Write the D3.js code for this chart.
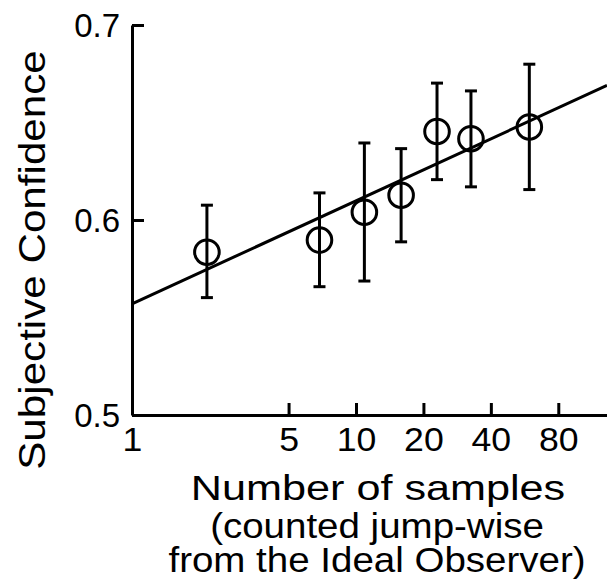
<!DOCTYPE html>
<html>
<head>
<meta charset="utf-8">
<script src="https://cdn.jsdelivr.net/npm/d3@7"></script>
<style>
  body { margin: 0; background: #fff; }
  svg { display: block; }
</style>
</head>
<body>
<svg id="chart" width="607" height="587"></svg>
<script>
// DATA
const samples = [2.16, 6.87, 10.9, 15.9, 23.0, 32.6, 59.4];
const confidence = [0.5835, 0.5897, 0.604, 0.6127, 0.6454, 0.6417, 0.6477];
const errLow = [0.5602, 0.5658, 0.5687, 0.5888, 0.6207, 0.617, 0.6156];
const errHigh = [0.6076, 0.6139, 0.6395, 0.6366, 0.6702, 0.6662, 0.6799];
const xTicks = [1, 5, 10, 20, 40, 80];
const yTicks = [0.5, 0.6, 0.7];
// fitted line: confidence = fitIntercept + fitSlope * log2(samples)
const fitIntercept = 0.557;
const fitSlope = 0.0159;

// CANVAS SETUP
const svg = d3.select("#chart");
const font = "'Liberation Sans', Arial, sans-serif";
const ink = "#000";

const x = d3.scaleLog().domain([1, 132]).range([132, 607]);
const y = d3.scaleLinear().domain([0.5, 0.7]).range([415, 25]);

const data = samples.map((s, i) => ({
  s: s,
  c: confidence[i],
  lo: errLow[i],
  hi: errHigh[i],
}));

// AXES
const gx = svg
  .append("g")
  .attr("transform", `translate(0,${y(0.5)})`)
  .call(
    d3
      .axisBottom(x)
      .tickValues(xTicks)
      .tickFormat(d3.format("d"))
      .tickSizeInner(-12)
      .tickSizeOuter(0)
      .tickPadding(13)
  );

const gy = svg
  .append("g")
  .attr("transform", `translate(${x(1)},0)`)
  .call(
    d3
      .axisLeft(y)
      .tickValues(yTicks)
      .tickFormat(d3.format(".1f"))
      .tickSizeInner(-12)
      .tickSizeOuter(0)
      .tickPadding(12)
  );

[gx, gy].forEach((g) => {
  g.select(".domain").attr("stroke", ink).attr("stroke-width", 3);
  g.selectAll(".tick line").attr("stroke", ink).attr("stroke-width", 3);
  g.selectAll(".tick text")
    .attr("fill", ink)
    .style("font-family", font)
    .style("font-size", "33px");
});
gx.selectAll(".tick text").attr("transform", "scale(1.08,1)");
gy.selectAll(".tick text").attr("dy", "0.36em");

// FIT LINE
const fit = (s) => fitIntercept + fitSlope * Math.log2(s);
svg
  .append("path")
  .datum(x.domain())
  .attr("fill", "none")
  .attr("stroke", ink)
  .attr("stroke-width", 3)
  .attr(
    "d",
    d3
      .line()
      .x((d) => x(d))
      .y((d) => y(fit(d)))
  );

// ERROR BARS
const cap = 6;
const eb = svg.append("g").attr("stroke", ink).attr("stroke-width", 3);
eb.selectAll("line.bar")
  .data(data)
  .join("line")
  .attr("class", "bar")
  .attr("x1", (d) => x(d.s))
  .attr("x2", (d) => x(d.s))
  .attr("y1", (d) => y(d.lo))
  .attr("y2", (d) => y(d.hi));
eb.selectAll("line.capHi")
  .data(data)
  .join("line")
  .attr("class", "capHi")
  .attr("x1", (d) => x(d.s) - cap)
  .attr("x2", (d) => x(d.s) + cap)
  .attr("y1", (d) => y(d.hi))
  .attr("y2", (d) => y(d.hi));
eb.selectAll("line.capLo")
  .data(data)
  .join("line")
  .attr("class", "capLo")
  .attr("x1", (d) => x(d.s) - cap)
  .attr("x2", (d) => x(d.s) + cap)
  .attr("y1", (d) => y(d.lo))
  .attr("y2", (d) => y(d.lo));

// MARKERS
svg
  .append("g")
  .selectAll("circle")
  .data(data)
  .join("circle")
  .attr("cx", (d) => x(d.s))
  .attr("cy", (d) => y(d.c))
  .attr("r", 12.3)
  .attr("fill", "none")
  .attr("stroke", ink)
  .attr("stroke-width", 3);

// TITLES
const label = (tx, ty, rot, sx, size, txt) =>
  svg
    .append("text")
    .attr("transform", `translate(${tx},${ty}) rotate(${rot}) scale(${sx},1)`)
    .attr("text-anchor", "middle")
    .attr("fill", ink)
    .style("font-family", font)
    .style("font-size", size + "px")
    .text(txt);

label(45, 260, -90, 1.14, 37, "Subjective Confidence");
label(378, 500, 0, 1.2, 36, "Number of samples");
label(377, 538, 0, 1.1, 35, "(counted jump-wise");
label(377, 572, 0, 1.1, 35, "from the Ideal Observer)");
</script>
</body>
</html>
